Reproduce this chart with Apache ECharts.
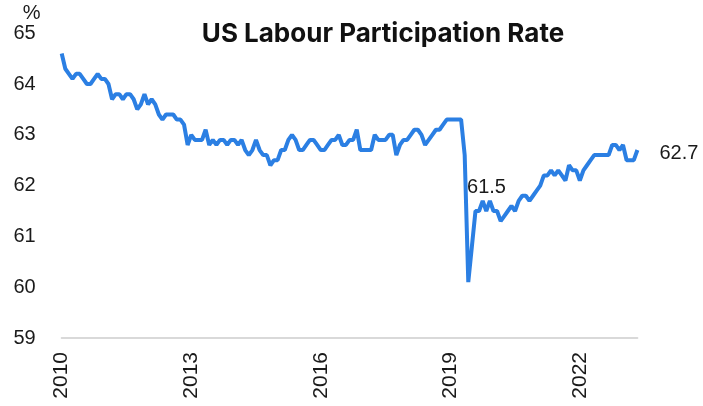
<!DOCTYPE html>
<html>
<head>
<meta charset="utf-8">
<script src="https://cdn.jsdelivr.net/npm/echarts@6/dist/echarts.min.js"></script>
<style>
  html,body{margin:0;padding:0;background:#fff;}
  #main{width:703px;height:406px;}
</style>
</head>
<body>
<div id="main"></div>
<script>
// monthly, Nov 2010 .. Mar 2024
let startYear=2010, startMonth=11
let rate=[
  64.6,64.3,
  64.2,64.1,64.2,64.2,64.1,64.0,64.0,64.1,64.2,64.1,64.1,64.0,
  63.7,63.8,63.8,63.7,63.8,63.8,63.7,63.5,63.6,63.8,63.6,63.7,
  63.6,63.4,63.3,63.4,63.4,63.4,63.3,63.3,63.2,62.8,63.0,62.9,
  62.9,62.9,63.1,62.8,62.9,62.8,62.9,62.9,62.8,62.9,62.9,62.8,
  62.9,62.7,62.6,62.7,62.9,62.7,62.6,62.6,62.4,62.5,62.5,62.7,
  62.7,62.9,63.0,62.9,62.7,62.7,62.8,62.9,62.9,62.8,62.7,62.7,
  62.8,62.9,62.9,63.0,62.8,62.8,62.9,62.9,63.1,62.7,62.7,62.7,
  62.7,63.0,62.9,62.9,62.9,63.0,63.0,62.6,62.8,62.9,62.9,63.0,
  63.1,63.1,63.0,62.8,62.9,63.0,63.1,63.1,63.2,63.3,63.3,63.3,
  63.3,63.3,62.6,60.1,60.8,61.5,61.5,61.7,61.5,61.7,61.5,61.5,
  61.3,61.4,61.5,61.6,61.5,61.7,61.8,61.8,61.7,61.8,61.9,62.0,
  62.2,62.2,62.3,62.2,62.3,62.2,62.1,62.4,62.3,62.3,62.1,62.3,
  62.4,62.5,62.6,62.6,62.6,62.6,62.6,62.8,62.8,62.7,62.8,62.5,
  62.5,62.5,62.7
]
let months=rate.map((v,i)=>{
  let m=startMonth-1+i
  return (startYear+Math.floor(m/12))+'-'+String(m%12+1).padStart(2,'0')
})
let yTicks=[59,60,61,62,63,64,65]
let markIdx=115   // the 61.5 label after the 2020 drop
let lastIdx=rate.length-1

let txt='#1a1a1a'
let font='Liberation Sans'

var myChart=echarts.init(document.getElementById('main'))
option={
  animation:false,
  title:{
    text:'US Labour Participation Rate',
    left:378,top:16,textAlign:'center',
    textStyle:{fontFamily:'Inter',fontWeight:'bold',fontSize:26,color:'#111'}
  },
  grid:{left:61.7,right:65.6,top:33.2,bottom:68},
  xAxis:{
    type:'category',
    data:months,
    boundaryGap:false,
    axisLine:{lineStyle:{color:'#d9d9d9',width:2}},
    axisTick:{show:false},
    axisLabel:{
      interval:35,rotate:90,margin:14,
      fontFamily:font,fontSize:21,color:txt,
      formatter:v=>v.slice(0,4)
    }
  },
  yAxis:{
    type:'value',
    min:yTicks[0],max:yTicks[yTicks.length-1],interval:1,
    name:'%',nameLocation:'end',nameGap:4,
    nameTextStyle:{fontFamily:font,fontSize:20,color:txt,align:'center',padding:[0,0,0,-60]},
    splitLine:{show:false},
    axisLine:{show:false},
    axisTick:{show:false},
    axisLabel:{fontFamily:font,fontSize:20,color:txt,margin:26}
  },
  series:[{
    type:'line',
    data:rate,
    showSymbol:false,
    lineStyle:{color:'#2b7fe3',width:4},
    markPoint:{
      symbol:'circle',symbolSize:0,
      silent:true,
      label:{show:true,fontFamily:font,fontSize:20,color:txt,formatter:p=>p.value},
      data:[
        {coord:[markIdx,rate[markIdx]],value:rate[markIdx],label:{position:'top',distance:0,offset:[11,-14]}},
        {coord:[lastIdx,rate[lastIdx]],value:rate[lastIdx],label:{position:'right',distance:22,offset:[0,3]}}
      ]
    }
  }]
}
myChart.setOption(option)
</script>
</body>
</html>
